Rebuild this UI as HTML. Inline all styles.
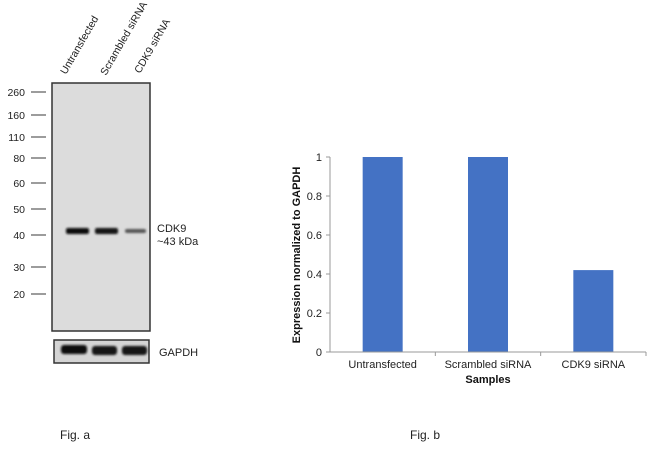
<!DOCTYPE html>
<html><head><meta charset="utf-8"><style>
body{margin:0;background:#fff;width:650px;height:449px;overflow:hidden;font-family:"Liberation Sans",sans-serif;}
svg{position:absolute;left:0;top:0}
</style></head><body>
<svg width="650" height="449">
<defs>
<filter id="blur"><feGaussianBlur stdDeviation="1"/></filter>
</defs>
<g>
<rect x="52" y="83" width="98" height="248" fill="#dcdcdc" stroke="#333" stroke-width="1.5"/>
<rect x="54" y="340" width="95" height="23" fill="#d4d4d4" stroke="#333" stroke-width="1.5"/>
<g id="markers"></g>
<g filter="url(#blur)">
<rect x="66" y="228" width="23" height="6" rx="2" fill="#111"/>
<rect x="95" y="228" width="23" height="6" rx="2" fill="#151515"/>
<rect x="125" y="229" width="21" height="4" rx="2" fill="#555"/>
<rect x="61" y="345" width="26" height="9" rx="3" fill="#111"/>
<rect x="92" y="346" width="25" height="9" rx="3" fill="#151515"/>
<rect x="122" y="346" width="25" height="9" rx="3" fill="#151515"/>
</g>
<text x="157" y="232" font-size="11" fill="#222">CDK9</text>
<text x="157" y="245" font-size="11" fill="#222">~43 kDa</text>
<text x="159" y="356" font-size="11" fill="#222">GAPDH</text>
<text transform="translate(66,75) rotate(-60)" font-size="10.5" fill="#222">Untransfected</text>
<text transform="translate(106,76) rotate(-60)" font-size="10.5" fill="#222">Scrambled siRNA</text>
<text transform="translate(140,74) rotate(-60)" font-size="10.5" fill="#222">CDK9 siRNA</text>
<text x="60" y="439" font-size="12" fill="#222">Fig. a</text>
</g>
<g id="chart">
<text transform="translate(300,255) rotate(-90)" text-anchor="middle" font-size="11" font-weight="bold" fill="#111">Expression normalized to GAPDH</text>
<text x="488" y="383" text-anchor="middle" font-size="11" font-weight="bold" fill="#111">Samples</text>
<text x="410" y="439" font-size="12" fill="#222">Fig. b</text>
</g>
</svg>
<script>
const markerLabels=["260","160","110","80","60","50","40","30","20"];
const markerY=[92,115,137,158,183,209,235,267,294];
const categories=["Untransfected","Scrambled siRNA","CDK9 siRNA"];
const values=[1,1,0.42];
const yTicks=[0,0.2,0.4,0.6,0.8,1];
const yTickLabels=["0","0.2","0.4","0.6","0.8","1"];
const NS="http://www.w3.org/2000/svg";
function mk(t,a,p){const e=document.createElementNS(NS,t);for(const k in a)e.setAttribute(k,a[k]);p.appendChild(e);return e;}
const mg=document.getElementById('markers');
markerLabels.forEach((l,i)=>{
  const t=mk('text',{x:25,y:markerY[i]+4,'text-anchor':'end','font-size':10.5,fill:'#222'},mg);t.textContent=l;
  
  
  const ln=mk('line',{x1:31,x2:46,y1:markerY[i],y2:markerY[i],stroke:'#666','stroke-width':1.3},mg);
  
  
});
const g=document.getElementById('chart');
const x0=330,x1=646,yb=352,yt=157;
const cw=(x1-x0)/categories.length;
const ys=v=>yb-(yb-yt)*v;
yTicks.forEach((v,i)=>{
  const t=mk('text',{x:322,y:ys(v)+4,'text-anchor':'end','font-size':11,fill:'#222'},g);t.textContent=yTickLabels[i];
  
  
  const tk=mk('line',{x1:326,x2:330,y1:ys(v),y2:ys(v),stroke:'#999'},g);
  
  
});
categories.forEach((c,i)=>{
  const cx=x0+cw*(i+0.5);
  const r=mk('rect',{x:cx-20,y:ys(values[i]),width:40,height:yb-ys(values[i]),fill:'#4472c4'},g);
  
  
  const t=mk('text',{x:cx,y:368,'text-anchor':'middle','font-size':11,fill:'#222'},g);t.textContent=c;
  
  
  const tk=mk('line',{x1:x0+cw*(i+1),x2:x0+cw*(i+1),y1:yb,y2:yb+4,stroke:'#999'},g);
  
  
});
const ya=mk('line',{x1:x0,x2:x0,y1:yt,y2:yb,stroke:'#999'},g);


const xa=mk('line',{x1:x0,x2:x1,y1:yb,y2:yb,stroke:'#999'},g);


</script>
</body></html>
